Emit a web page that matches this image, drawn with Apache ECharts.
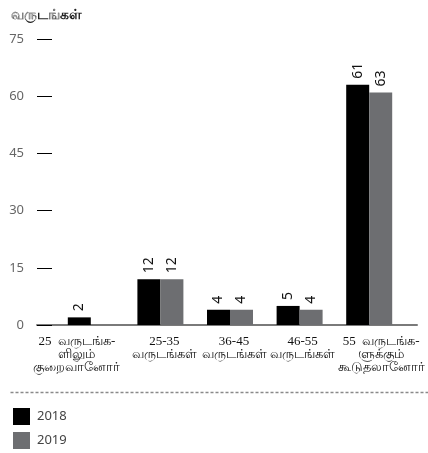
<!DOCTYPE html>
<html>
<head>
<meta charset="utf-8">
<script src="https://cdn.jsdelivr.net/npm/echarts@6/dist/echarts.min.js"></script>
<style>
html,body{margin:0;padding:0;background:#fff;}
#c{width:428px;height:453px;}
</style>
</head>
<body>
<div id="c"></div>
<script>
var title = 'வருடங்கள்';
var categories = [
  '25  வருடங்க-\nளிலும்\nகுறைவானோர்',
  '25-35\nவருடங்கள்',
  '36-45\nவருடங்கள்',
  '46-55\nவருடங்கள்',
  '55  வருடங்க-\nளுக்கும்\nகூடுதலானோர்'
];
var seriesNames = ['2018', '2019'];
var values2018 = [2, 12, 4, 5, 63];
var values2019 = [null, 12, 4, 4, 61];
var labels2018 = ['2', '12', '4', '5', '61'];
var labels2019 = ['', '12', '4', '4', '63'];
var yTicks = [0, 15, 30, 45, 60, 75];

// horizontal nudges of category labels (layout only)
var labelShift = [-14, 4, 4, 3, 12];

var chart = echarts.init(document.getElementById('c'), null, {renderer: 'canvas'});
var sans = '"Noto Sans", "Open Sans", sans-serif';
var serif = '"Liberation Serif", "DejaVu Serif", serif';

function labelFn(arr) {
  return function (p) { return arr[p.dataIndex]; };
}
function legendAt(name, top) {
  return {
    orient: 'vertical', left: 8, top: top,
    itemWidth: 17, itemHeight: 17, itemGap: 7,
    icon: 'rect', data: [name],
    textStyle: {fontSize: 13, color: '#444', fontFamily: sans, padding: [0, 0, 0, 2]}
  };
}
var catData = categories.map(function (c, i) {
  var s = labelShift[i];
  return {
    value: c,
    textStyle: {padding: s < 0 ? [0, -2 * s, 0, 0] : [0, 0, 0, 2 * s]}
  };
});

var option = {
  animation: false,
  backgroundColor: '#fff',
  title: {
    text: title, left: 6, top: 3,
    textStyle: {fontSize: 13.5, fontWeight: 'bold', color: '#222', fontFamily: sans}
  },
  legend: [legendAt(seriesNames[0], 403), legendAt(seriesNames[1], 427)],
  grid: [
    {left: 37, right: 11, top: 39, bottom: 128},
    {left: 56, right: 24, top: 39, bottom: 128}
  ],
  xAxis: [
    {
      gridIndex: 0, type: 'value', min: 0, max: 1,
      axisLine: {show: true, lineStyle: {color: '#7a7a7a', width: 2}},
      axisTick: {show: false}, axisLabel: {show: false}, splitLine: {show: false}
    },
    {
      gridIndex: 1, type: 'category', data: catData,
      axisLine: {show: false}, axisTick: {show: false},
      axisLabel: {
        interval: 0, margin: 10, color: '#111', fontSize: 13, lineHeight: 13,
        fontFamily: serif
      }
    }
  ],
  yAxis: [
    {
      gridIndex: 0, type: 'value', min: 0, max: 75, interval: 15,
      axisLine: {show: false},
      axisTick: {show: true, inside: true, length: 15, lineStyle: {color: '#000', width: 1}},
      axisLabel: {margin: 13, color: '#666', fontSize: 13, fontFamily: sans},
      splitLine: {show: false}
    },
    {
      gridIndex: 1, type: 'value', min: 0, max: 75, interval: 15,
      show: false, splitLine: {show: false}
    }
  ],
  series: [
    {
      name: seriesNames[0], type: 'bar', xAxisIndex: 1, yAxisIndex: 1,
      data: values2018, barWidth: 23, barGap: '0%',
      itemStyle: {color: '#000'},
      label: {
        show: true, position: 'top', rotate: 90, distance: 6,
        align: 'left', verticalAlign: 'middle',
        color: '#111', fontSize: 14, fontFamily: sans,
        formatter: labelFn(labels2018)
      }
    },
    {
      name: seriesNames[1], type: 'bar', xAxisIndex: 1, yAxisIndex: 1,
      data: values2019, barWidth: 23, barGap: '0%',
      itemStyle: {color: '#6d6e71'},
      label: {
        show: true, position: 'top', rotate: 90, distance: 6,
        align: 'left', verticalAlign: 'middle',
        color: '#111', fontSize: 14, fontFamily: sans,
        formatter: labelFn(labels2019)
      }
    }
  ],
  graphic: [
    {
      type: 'line', left: 8, top: 390,
      shape: {x1: 0, y1: 0, x2: 420, y2: 0},
      style: {stroke: '#8a8a8a', lineWidth: 1.5, lineDash: [3, 2]}
    }
  ]
};
chart.setOption(option);
</script>
</body>
</html>
